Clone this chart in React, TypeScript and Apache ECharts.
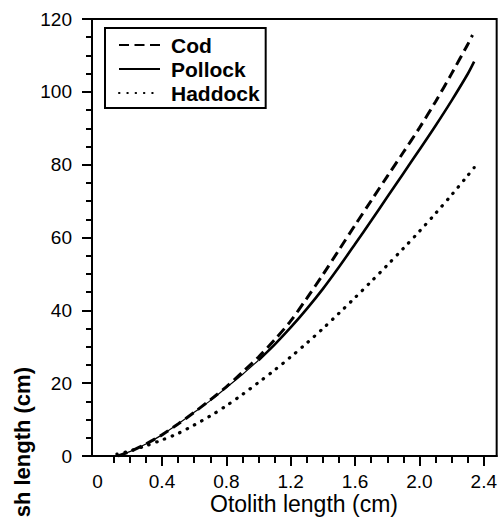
import React, { useEffect, useRef } from "react";
import * as echarts from "echarts";

// Otolith length (cm) -> fish length (cm) regression curves
const codX = [0.126, 0.2, 0.3, 0.4, 0.5, 0.6, 0.7, 0.8, 0.9, 1.0, 1.1, 1.2, 1.3, 1.4, 1.5, 1.6, 1.7, 1.8, 1.9, 2.0, 2.1, 2.2, 2.3, 2.33];
const codY = [0, 1.2, 3.3, 5.8, 8.8, 12.0, 15.4, 19.0, 23.0, 27.2, 31.9, 37.1, 43.3, 49.8, 56.6, 63.4, 70.1, 76.8, 83.4, 90.1, 97.3, 105.0, 113.0, 115.6];

const pollockX = [0.126, 0.2, 0.3, 0.4, 0.5, 0.6, 0.7, 0.8, 0.9, 1.0, 1.1, 1.2, 1.3, 1.4, 1.5, 1.6, 1.7, 1.8, 1.9, 2.0, 2.1, 2.2, 2.3, 2.34];
const pollockY = [0, 1.2, 3.3, 5.8, 8.8, 12.0, 15.2, 18.8, 22.4, 26.3, 30.6, 35.3, 40.4, 45.9, 51.9, 58.2, 64.6, 71.1, 77.6, 84.1, 90.7, 97.6, 104.9, 108.3];
// below this otolith length the pollock curve is drawn with a hairline
const pollockThinUntil = 1.0;

const haddockX = [0.12, 0.2, 0.3, 0.4, 0.5, 0.6, 0.7, 0.8, 0.9, 1.0, 1.1, 1.2, 1.3, 1.4, 1.5, 1.6, 1.7, 1.8, 1.9, 2.0, 2.1, 2.2, 2.3, 2.34];
const haddockY = [0.5, 1.4, 2.8, 4.4, 6.2, 8.5, 11.0, 13.8, 16.9, 20.2, 23.6, 27.2, 31.0, 35.0, 39.2, 43.5, 47.9, 52.4, 57.0, 61.7, 66.6, 71.7, 77.0, 79.2];

const xLabelValues = [0, 0.4, 0.8, 1.2, 1.6, 2.0, 2.4];
const xMajorTicks = [0.4, 0.8, 1.2, 1.6, 2.0, 2.4];
const xMinorTicks = [0.1, 0.2, 0.3, 0.5, 0.6, 0.7, 0.9, 1.0, 1.1, 1.3, 1.4, 1.5, 1.7, 1.8, 1.9, 2.1, 2.2, 2.3];
const speciesNames = ["Cod", "Pollock", "Haddock"];

const FONT = "'Liberation Sans', Arial, Helvetica, sans-serif";

const pairs = (xs: number[], ys: number[]) => xs.map((x, i) => [x, ys[i]]);

export default function App() {
  const ref = useRef<HTMLDivElement>(null);

  useEffect(() => {
    if (!ref.current) return;
    const chart = echarts.init(ref.current, null, { renderer: "svg" });

    const pollockAll = pairs(pollockX, pollockY);
    const pollockThin = pollockAll.filter((p) => p[0] <= pollockThinUntil);
    const pollockThick = pollockAll.filter((p) => p[0] >= pollockThinUntil);

    const xRange = { min: -0.035, max: 2.48 };

    chart.setOption({
      animation: false,
      backgroundColor: "#ffffff",
      color: ["#000"],
      grid: {
        left: 92,
        right: 3,
        top: 19,
        bottom: 63,
        show: true,
        borderColor: "#000",
        borderWidth: 2,
        backgroundColor: "transparent",
      },
      legend: {
        data: speciesNames,
        orient: "vertical",
        left: 105,
        top: 28,
        padding: [6, 6, 4, 13],
        itemGap: 2,
        itemWidth: 41,
        itemHeight: 14,
        borderColor: "#000",
        borderWidth: 2,
        backgroundColor: "#fff",
        selectedMode: false,
        itemStyle: { opacity: 0 },
        textStyle: {
          fontFamily: FONT,
          fontSize: 21,
          fontWeight: "bold",
          color: "#000",
          lineHeight: 22,
          padding: [0, 0, 0, 6],
        },
      },
      xAxis: [
        {
          type: "value",
          ...xRange,
          position: "bottom",
          axisLine: { show: true, onZero: false, lineStyle: { color: "#000", width: 2 } },
          axisTick: {
            show: true,
            customValues: xMajorTicks,
            length: 10,
            lineStyle: { color: "#000", width: 2 },
          },
          axisLabel: {
            customValues: xLabelValues,
            formatter: (v: number) => (v === 0 ? "0" : v.toFixed(1)),
            fontFamily: FONT,
            fontSize: 19,
            color: "#000",
            margin: 16,
          },
          splitLine: { show: false },
        },
        {
          type: "value",
          ...xRange,
          position: "bottom",
          axisLine: { show: false, onZero: false },
          axisTick: {
            show: true,
            customValues: xMinorTicks,
            length: 7,
            lineStyle: { color: "#000", width: 2 },
          },
          axisLabel: { show: false },
          splitLine: { show: false },
        },
      ],
      yAxis: {
        type: "value",
        min: 0,
        max: 120,
        interval: 20,
        axisLine: { show: true, onZero: false, lineStyle: { color: "#000", width: 2 } },
        axisTick: { show: true, length: 10, lineStyle: { color: "#000", width: 2 } },
        minorTick: { show: true, splitNumber: 4, length: 6, lineStyle: { color: "#000", width: 2 } },
        axisLabel: { fontFamily: FONT, fontSize: 19, color: "#000", margin: 20 },
        splitLine: { show: false },
        minorSplitLine: { show: false },
      },
      graphic: [
        {
          type: "text",
          x: 304,
          y: 504,
          style: {
            text: "Otolith length (cm)",
            fontFamily: FONT,
            fontSize: 23,
            fill: "#000",
            textAlign: "center",
            textVerticalAlign: "middle",
          },
        },
        {
          type: "text",
          x: 22,
          y: 367,
          rotation: Math.PI / 2,
          style: {
            text: "Fish length (cm)",
            fontFamily: FONT,
            fontSize: 22,
            fontWeight: "bold",
            fill: "#000",
            textAlign: "right",
            textVerticalAlign: "middle",
          },
        },
      ],
      series: [
        {
          name: "Haddock",
          type: "line",
          data: pairs(haddockX, haddockY),
          smooth: 0.3,
          symbol: "none",
          itemStyle: { color: "#000" },
          lineStyle: { color: "#000", width: 3.2, type: [0.5, 7.8], cap: "round" },
        },
        {
          name: "Pollock",
          type: "line",
          data: pollockThick,
          smooth: 0.3,
          symbol: "none",
          itemStyle: { color: "#000" },
          lineStyle: { color: "#000", width: 2.6, type: "solid" },
        },
        {
          name: "Pollock lower",
          type: "line",
          data: pollockThin,
          smooth: 0.3,
          symbol: "none",
          itemStyle: { color: "#000" },
          lineStyle: { color: "#000", width: 1.2, type: "solid" },
        },
        {
          name: "Cod",
          type: "line",
          data: pairs(codX, codY),
          smooth: 0.3,
          symbol: "none",
          itemStyle: { color: "#000" },
          lineStyle: { color: "#000", width: 3, type: [10, 5.5] },
        },
      ],
    });

    return () => chart.dispose();
  }, []);

  return (
    <div
      ref={ref}
      style={{ position: "absolute", left: 0, top: 0, width: 500, height: 519 }}
    />
  );
}
